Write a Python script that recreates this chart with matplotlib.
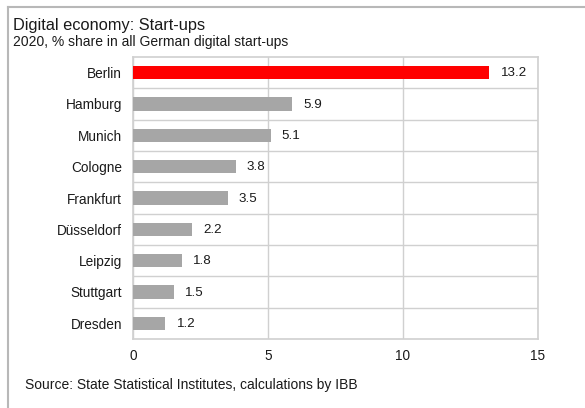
import numpy as np
import matplotlib
matplotlib.use('Agg')
from matplotlib import pyplot as plt
from matplotlib.lines import Line2D

plt.rcParams['font.family'] = ['Liberation Sans', 'DejaVu Sans']

cities = ['Berlin', 'Hamburg', 'Munich', 'Cologne', 'Frankfurt',
          'Düsseldorf', 'Leipzig', 'Stuttgart', 'Dresden']
shares = [13.2, 5.9, 5.1, 3.8, 3.5, 2.2, 1.8, 1.5, 1.2]
highlight = 'Berlin'

W, H = 585, 408
fig = plt.figure(figsize=(W / 100, H / 100), dpi=100)

# plot area in pixel coordinates (left, top, right, bottom)
left, top, right, bottom = 133, 57, 538, 339
ax = fig.add_axes([left / W, 1 - bottom / H, (right - left) / W, (bottom - top) / H])

grid_col = '#d0d0d0'
txt_col = '#1a1a1a'
ypos = np.arange(len(cities))
colors = ['#ff0000' if c == highlight else '#a6a6a6' for c in cities]
ax.barh(ypos, shares, height=0.42, color=colors, zorder=3)
for y, v in zip(ypos, shares):
    ax.annotate(f'{v:.1f}', (v, y), xytext=(8, -0.5), textcoords='offset points',
                va='center', ha='left', fontsize=9.6, color=txt_col)

ax.set_xlim(0, 15)
ax.set_ylim(len(cities) - 0.5, -0.5)
ax.set_xticks([0, 5, 10, 15])
ax.set_yticks(ypos)
ax.set_yticklabels(cities)
ax.tick_params(length=0, labelsize=9.8, colors=txt_col)
ax.tick_params(axis='x', pad=7)
ax.tick_params(axis='y', pad=8)
ax.grid(axis='x', color=grid_col, linewidth=1.0, zorder=0)
for yb in np.arange(0.5, len(cities) - 0.5, 1.0):
    ax.axhline(yb, color=grid_col, linewidth=1.0, zorder=0)
for s in ax.spines.values():
    s.set_color(grid_col)
    s.set_linewidth(1.2)

# outer frame: top and left edges only
fig.add_artist(Line2D([8 / W, 1], [1 - 6.5 / H, 1 - 6.5 / H], color='#b8b8b8', linewidth=1.5))
fig.add_artist(Line2D([8 / W, 8 / W], [0, 1 - 6.5 / H], color='#b8b8b8', linewidth=1.5))

fig.text(13 / W, 1 - 30 / H, 'Digital economy: Start-ups', fontsize=11.8, color=txt_col)
fig.text(13 / W, 1 - 46 / H, '2020, % share in all German digital start-ups', fontsize=10, color=txt_col)
fig.text(25 / W, 1 - 389 / H, 'Source: State Statistical Institutes, calculations by IBB', fontsize=10, color=txt_col)

fig.savefig('out.png', dpi=100)
